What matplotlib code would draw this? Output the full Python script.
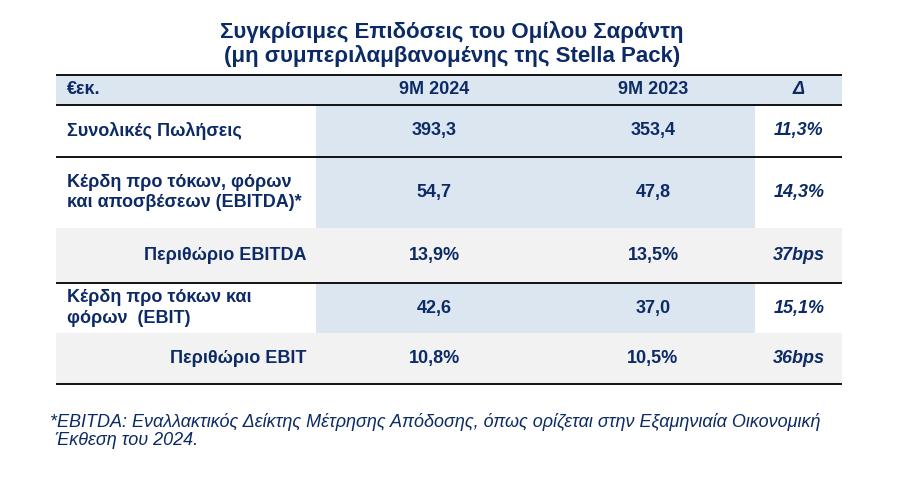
import matplotlib.pyplot as plt
from matplotlib.patches import Rectangle

plt.rcParams['font.family'] = ['Liberation Sans', 'DejaVu Sans']

# data
title = 'Συγκρίσιμες Επιδόσεις του Ομίλου Σαράντη\n(μη συμπεριλαμβανομένης της Stella Pack)'
header = ['€εκ.', '9M 2024', '9M 2023', 'Δ']
row_labels = ['Συνολικές Πωλήσεις',
              'Κέρδη προ τόκων, φόρων\nκαι αποσβέσεων (EBITDA)*',
              'Περιθώριο EBITDA',
              'Κέρδη προ τόκων και\nφόρων  (EBIT)',
              'Περιθώριο EBIT']
is_margin = [False, False, True, False, True]
val_2024 = [393.3, 54.7, 13.9, 42.6, 10.8]
val_2023 = [353.4, 47.8, 13.5, 37.0, 10.5]
delta = ['11,3%', '14,3%', '37bps', '15,1%', '36bps']
footnote = ('*EBITDA: Εναλλακτικός Δείκτης Μέτρησης Απόδοσης, όπως ορίζεται στην Εξαμηνιαία Οικονομική\n'
            ' Έκθεση του 2024.')

navy = '#0B2A66'
blue_fill = '#DCE6F1'
grey_fill = '#F2F2F2'
fs = 13  # body font size

def fmt(v, pct):
    s = ('%.1f' % v).replace('.', ',')
    return s + '%' if pct else s

fig = plt.figure(figsize=(9.06, 4.8), dpi=100)
ax = fig.add_axes([0, 0, 1, 1])
ax.set_xlim(0, 906)
ax.set_ylim(480, 0)
ax.axis('off')

# table layout (pixels)
x_left, x_right = 56, 842
x_col1, x_col3 = 316, 755
col_x = [67, 434, 653, 799]
hdr_top, hdr_bot = 75, 105
row_edges = [105, 157, 228, 283, 333, 384]

ax.text(452, 32, title.split('\n')[0], ha='center', va='center', fontsize=16, fontweight='bold', color=navy)
ax.text(452, 56, title.split('\n')[1], ha='center', va='center', fontsize=16, fontweight='bold', color=navy)

# header band
ax.add_patch(Rectangle((x_left, hdr_top), x_right - x_left, hdr_bot - hdr_top, color=blue_fill, lw=0))
hy = (hdr_top + hdr_bot) / 2
ax.text(col_x[0], hy, header[0], ha='left', va='center', fontsize=fs, fontweight='bold', color=navy)
ax.text(col_x[1], hy, header[1], ha='center', va='center', fontsize=fs, fontweight='bold', color=navy)
ax.text(col_x[2], hy, header[2], ha='center', va='center', fontsize=fs, fontweight='bold', color=navy)
ax.text(col_x[3], hy, header[3], ha='center', va='center', fontsize=fs, fontweight='bold', style='italic', color=navy)

for i in range(len(row_labels)):
    top, bot = row_edges[i], row_edges[i + 1]
    cy = (top + bot) / 2
    if is_margin[i]:
        ax.add_patch(Rectangle((x_left, top), x_right - x_left, bot - top, color=grey_fill, lw=0))
        ax.text(306, cy, row_labels[i], ha='right', va='center', fontsize=fs, fontweight='bold', color=navy)
    else:
        ax.add_patch(Rectangle((x_col1, top), x_col3 - x_col1, bot - top, color=blue_fill, lw=0))
        ax.text(col_x[0], cy, row_labels[i], ha='left', va='center', fontsize=fs, fontweight='bold',
                color=navy, linespacing=1.3)
    ax.text(col_x[1], cy, fmt(val_2024[i], is_margin[i]), ha='center', va='center', fontsize=fs,
            fontweight='bold', color=navy)
    ax.text(col_x[2], cy, fmt(val_2023[i], is_margin[i]), ha='center', va='center', fontsize=fs,
            fontweight='bold', color=navy)
    ax.text(col_x[3], cy, delta[i], ha='center', va='center', fontsize=fs, fontweight='bold',
            style='italic', color=navy)

# rules
for y in [75, 105, 157, 283, 384]:
    ax.plot([x_left, x_right], [y, y], color='black', lw=1.3, solid_capstyle='butt')

ax.text(50, 431, footnote, ha='left', va='center', fontsize=13, style='italic', color=navy, linespacing=1.15)

plt.savefig('out.png', dpi=100)
